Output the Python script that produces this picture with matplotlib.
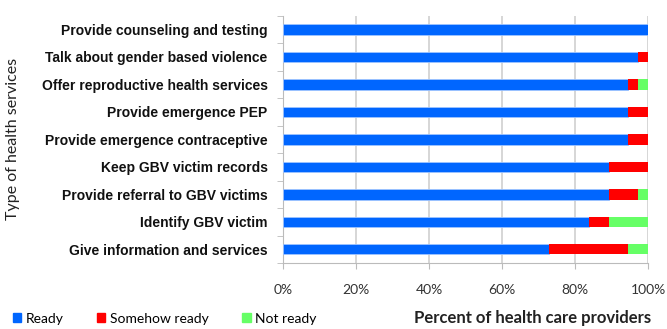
import matplotlib
matplotlib.use("Agg")
import matplotlib.pyplot as plt
import numpy as np
from matplotlib.patches import Patch

# data (top -> bottom as displayed)
services = [
    "Provide counseling and testing",
    "Talk about gender based violence",
    "Offer reproductive health services",
    "Provide emergence PEP",
    "Provide emergence contraceptive",
    "Keep GBV victim records",
    "Provide referral to GBV victims",
    "Identify GBV victim",
    "Give information and services",
]
ready = [100.0, 97.3, 94.6, 94.6, 94.6, 89.2, 89.2, 83.8, 73.0]
somehow_ready = [0.0, 2.7, 2.7, 5.4, 5.4, 10.8, 8.1, 5.4, 21.6]
not_ready = [0.0, 0.0, 2.7, 0.0, 0.0, 0.0, 2.7, 10.8, 5.4]
x_ticks = [0, 20, 40, 60, 80, 100]

colors = {"Ready": "#0066FF", "Somehow ready": "#FF0000", "Not ready": "#66FF66"}

label_font = ["Liberation Sans", "DejaVu Sans"]
text_font = ["Lato", "DejaVu Sans"]

fig = plt.figure(figsize=(6.67, 3.29), dpi=100)
ax = fig.add_axes([0.4243, 0.2006, 0.5472, 0.7514])

y = np.arange(len(services))
r = np.array(ready)
s = np.array(somehow_ready)
n = np.array(not_ready)
bh = 0.38
ax.barh(y, r, height=bh, color=colors["Ready"], edgecolor="#9fc4ff", linewidth=0.6, zorder=3)
ax.barh(y, s, left=r, height=bh, color=colors["Somehow ready"], linewidth=0, zorder=3)
ax.barh(y, n, left=r + s, height=bh, color=colors["Not ready"], linewidth=0, zorder=3)

ax.set_xlim(0, 100)
ax.set_ylim(len(services) - 0.5, -0.5)

ax.set_xticks(x_ticks)
ax.set_xticklabels([f"{t}%" for t in x_ticks], family=text_font, fontsize=10, color="#333333")
ax.tick_params(axis="x", length=4, color="#bbbbbb", pad=11)
ax.xaxis.grid(True, color="#d0d0d0", linewidth=1.2, zorder=0)

ax.set_yticks(y)
ax.set_yticklabels(services, family=label_font, fontweight="bold", fontsize=10, color="#111111")
ax.tick_params(axis="y", which="major", length=0, pad=11)
ax.set_yticks(np.arange(-0.5, len(services)), minor=True)
ax.tick_params(axis="y", which="minor", length=4, color="#bbbbbb")

for side in ["top", "right"]:
    ax.spines[side].set_visible(False)
ax.spines["left"].set_color("#bbbbbb")
ax.spines["bottom"].set_color("#bbbbbb")

ax.set_ylabel("Type of health services", family=text_font, fontsize=11.5, color="#222222")
ax.yaxis.set_label_coords(-0.72, 0.5)

fig.text(0.976, 0.008, "Percent of health care providers", family=text_font, fontweight="bold",
         fontsize=12, color="#222222", ha="right", va="bottom")

handles = [Patch(color=colors[k]) for k in colors]
fig.legend(handles, list(colors.keys()), loc="lower left", bbox_to_anchor=(0.0, -0.025), ncol=3,
           frameon=False, handlelength=0.6, handleheight=0.6, handletextpad=0.35, columnspacing=2.4,
           prop={"family": text_font, "size": 10})

fig.savefig("out.png", dpi=100)
